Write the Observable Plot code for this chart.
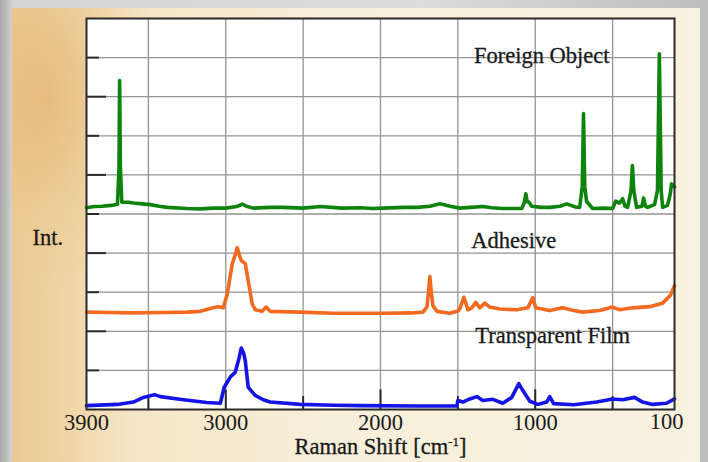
<!DOCTYPE html>
<html>
<head>
<meta charset="utf-8">
<script src="https://cdn.jsdelivr.net/npm/d3@7"></script>
<script src="https://cdn.jsdelivr.net/npm/@observablehq/plot@0.6"></script>
<style>
html, body { margin: 0; padding: 0; }
body {
  width: 708px; height: 462px; overflow: hidden; position: relative;
  background: linear-gradient(to right, #a8a8a8 0px, #c4c4c4 8px, #d6d6d6 14px, #dcdcdc 60%, #bdbdbd 100%);
}
#panel {
  position: absolute; left: 12px; top: 8px; width: 688px; height: 454px;
  background:
    radial-gradient(ellipse 120px 200px at 30px 90px, rgba(228,184,120,0.85) 0%, rgba(236,200,145,0.5) 60%, rgba(240,215,170,0) 100%),
    linear-gradient(to right, #ecc993 0px, #f0d7a8 60px, #f5e6c6 120px, #f8efd9 300px, #f8f1de 100%);
}
#chart { position: absolute; left: 0; top: 0; }
</style>
</head>
<body>
<div id="panel"></div>
<div id="chart"></div>
<script>
// Raman shift (cm-1) / intensity (offset units) pairs
const foreignObject = [
  [3900,5.16],[3850,5.19],[3800,5.2],[3740,5.22],[3700,5.25],[3690,6.2],[3686,8.41],[3681,6.2],[3672,5.3],
  [3630,5.3],[3597,5.28],[3540,5.26],[3487,5.24],[3430,5.2],[3377,5.17],[3250,5.14],[3165,5.13],
  [3080,5.15],[3000,5.15],[2930,5.19],[2894,5.25],[2860,5.19],[2822,5.15],[2720,5.17],[2629,5.17],
  [2500,5.15],[2390,5.19],[2250,5.15],[2132,5.16],[2050,5.14],[1984,5.15],[1850,5.17],[1765,5.17],
  [1680,5.2],[1616,5.26],[1550,5.2],[1487,5.15],[1420,5.17],[1339,5.19],[1280,5.16],[1210,5.14],
  [1087,5.14],[1070,5.3],[1061,5.52],[1052,5.32],[1040,5.3],[1023,5.2],[960,5.17],[906,5.17],
  [840,5.2],[797,5.26],[740,5.18],[713,5.17],[696,5.7],[688,7.57],[680,5.7],[668,5.32],[629,5.14],
  [560,5.15],[500,5.14],[480,5.33],[468,5.3],[455,5.28],[435,5.39],[420,5.2],[403,5.17],
  [381,5.6],[372,6.24],[363,5.6],[345,5.17],[310,5.2],[300,5.41],[288,5.2],[274,5.17],[229,5.24],
  [210,5.6],[198,9.1],[186,5.6],[177,5.17],[145,5.22],[128,5.5],[119,5.77],[100,5.69]
];
const adhesive = [
  [3900,2.49],[3750,2.48],[3597,2.47],[3400,2.48],[3250,2.49],[3165,2.51],[3081,2.6],[3048,2.63],
  [3016,2.6],[2990,2.96],[2958,3.73],[2935,4.0],[2926,4.14],[2912,3.95],[2900,3.81],[2874,3.73],
  [2855,3.3],[2829,2.7],[2810,2.55],[2765,2.51],[2739,2.62],[2713,2.51],[2519,2.49],[2306,2.46],
  [2132,2.46],[1984,2.46],[1800,2.47],[1726,2.49],[1700,2.62],[1690,3.0],[1681,3.4],[1672,3.0],
  [1661,2.65],[1635,2.51],[1552,2.46],[1500,2.52],[1487,2.58],[1461,2.87],[1435,2.55],[1410,2.6],
  [1384,2.74],[1358,2.6],[1326,2.72],[1294,2.62],[1229,2.57],[1119,2.55],[1048,2.6],[1016,2.86],
  [997,2.6],[906,2.53],[823,2.6],[760,2.54],[694,2.49],[584,2.53],[500,2.62],[455,2.55],
  [371,2.6],[261,2.63],[177,2.72],[126,2.92],[100,3.17]
];
const transparentFilm = [
  [3900,0.1],[3700,0.13],[3597,0.19],[3532,0.31],[3461,0.38],[3423,0.33],[3274,0.25],[3123,0.18],
  [3035,0.16],[3010,0.57],[2971,0.83],[2939,0.95],[2915,1.3],[2900,1.57],[2885,1.45],[2874,1.25],
  [2855,0.57],[2810,0.36],[2758,0.25],[2713,0.19],[2519,0.13],[2300,0.11],[2132,0.1],[1765,0.09],
  [1506,0.09],[1500,0.23],[1468,0.19],[1423,0.27],[1377,0.33],[1339,0.23],[1274,0.26],[1210,0.16],
  [1152,0.31],[1106,0.66],[1081,0.49],[1035,0.21],[984,0.13],[926,0.19],[906,0.33],[881,0.15],
  [752,0.12],[603,0.19],[500,0.27],[435,0.25],[358,0.31],[306,0.19],[242,0.13],[152,0.16],[100,0.27]
];

const xDomain = [3900, 100];
const yDomain = [0, 10];
const xGridValues = [3500, 3000, 2500, 2000, 1500, 1000, 500];
const xTicksMajor = [3000, 2000, 1000];
const xTicksMinor = [3500, 2500, 1500, 500];
const yGridValues = [1, 2, 3, 4, 5, 6, 7, 8, 9];
const yTicksMajor = [2, 4, 6, 8];
const yTicksMinor = [1, 3, 5, 7, 9];
const xTickLabels = [3900, 3000, 2000, 1000];
const xTickLabelsEnd = [100];
const xTitle = "Raman Shift [cm-1]";
const yTitle = "Int.";
const seriesLabels = [
  {text: "Foreign Object", x: 958, y: 9.05},
  {text: "Adhesive", x: 1139, y: 4.32},
  {text: "Transparent Film", x: 887, y: 1.89}
];

const serif = "'Liberation Serif', 'Times New Roman', serif";
const ink = "#1a1a1a";
const textStyle = {fontSize: 22.5, fill: ink, stroke: ink, strokeWidth: 0.3};

const chart = Plot.plot({
  width: 708,
  height: 462,
  marginLeft: 86,
  marginRight: 34,
  marginTop: 18,
  marginBottom: 53,
  x: {domain: xDomain, axis: null},
  y: {domain: yDomain, axis: null},
  style: {background: "transparent", fontFamily: serif, fontSize: "22.5px", color: ink},
  marks: [
    Plot.frame({fill: "white", stroke: null}),
    Plot.gridX(xGridValues, {stroke: "#939393", strokeOpacity: 1, strokeWidth: 1.3}),
    Plot.gridY(yGridValues, {stroke: "#939393", strokeOpacity: 1, strokeWidth: 1.3}),
    Plot.ruleY(yTicksMajor, {x1: 3900, x2: 3900 - 20 / 0.155, stroke: "#2a2a2a", strokeWidth: 2}),
    Plot.ruleY(yTicksMinor, {x1: 3900, x2: 3900 - 13 / 0.155, stroke: "#2a2a2a", strokeWidth: 2}),
    Plot.ruleX(xTicksMajor, {y1: 0, y2: 0.5, stroke: "#2a2a2a", strokeWidth: 2}),
    Plot.ruleX(xTicksMinor, {y1: 0, y2: 0.33, stroke: "#2a2a2a", strokeWidth: 2}),
    Plot.line(foreignObject, {x: d => d[0], y: d => d[1], stroke: "#0e840e", strokeWidth: 3.6, strokeLinejoin: "round"}),
    Plot.line(adhesive, {x: d => d[0], y: d => d[1], stroke: "#f26a1f", strokeWidth: 3.6, strokeLinejoin: "round"}),
    Plot.line(transparentFilm, {x: d => d[0], y: d => d[1], stroke: "#1414e6", strokeWidth: 3.6, strokeLinejoin: "round"}),
    Plot.frame({stroke: "#2a2a2a", strokeWidth: 2}),
    Plot.text(seriesLabels, {x: "x", y: "y", text: "text", ...textStyle}),
    Plot.axisX(xTickLabels, {tickSize: 0, tickPadding: 5, tickFormat: d => String(d), label: null, ...textStyle}),
    Plot.axisX(xTickLabelsEnd, {tickSize: 0, tickPadding: 4, dx: -8, tickFormat: d => String(d), label: null, ...textStyle}),
    Plot.text([xTitle], {frameAnchor: "bottom", dy: 44, text: d => d, ...textStyle}),
    Plot.text([yTitle], {frameAnchor: "left", y: [4.39], text: d => d, dx: -54, ...textStyle})
  ]
});

// superscript "-1" in the x title
d3.select(chart).selectAll("text").filter(function () { return this.textContent === xTitle; })
  .each(function () {
    const t = d3.select(this);
    t.text(null);
    t.append("tspan").text("Raman Shift [cm");
    t.append("tspan").attr("font-size", 13).attr("dy", -8).text("-1");
    t.append("tspan").attr("dy", 8).text("]");
  });

document.getElementById("chart").appendChild(chart);
</script>
</body>
</html>
